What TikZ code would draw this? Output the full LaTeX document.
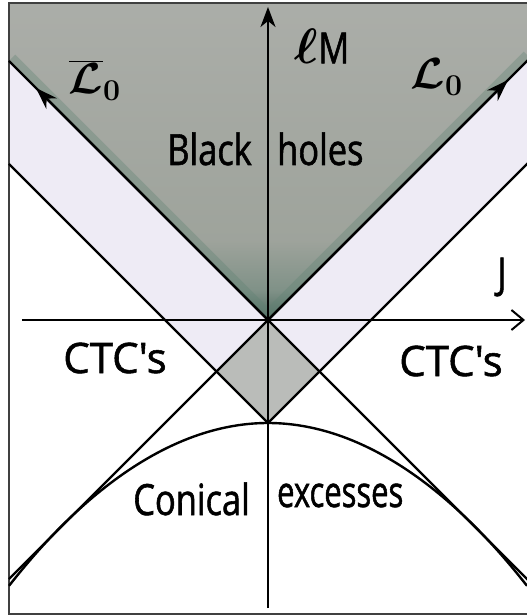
\documentclass[tikz,border=0pt]{standalone}
\usepackage{graphicx}
\usepackage{fontspec}
\newfontfamily\hand[FakeStretch=0.8, FakeBold=1.3]{Open Sans}
\newfontfamily\handwide[FakeBold=1.3]{Open Sans}
\usetikzlibrary{arrows.meta}
\definecolor{ctcband}{RGB}{238,235,245}
\definecolor{diamondfill}{RGB}{186,188,185}
\definecolor{edgetint}{RGB}{95,130,115}
\pgfdeclareverticalshading{bhshade}{100bp}{%
    rgb(0bp)=(0.31,0.42,0.38); rgb(25bp)=(0.31,0.42,0.38);
    rgb(29.7bp)=(0.50,0.57,0.53); rgb(37.6bp)=(0.62,0.64,0.61);
    rgb(75bp)=(0.67,0.68,0.66); rgb(100bp)=(0.67,0.68,0.66)}
\tikzset{
    frame/.style={draw=black!75, line width=2pt},
    bound/.style={draw, line width=2.4pt},
    axis/.style={draw, line width=2pt, -{Stealth[length=20pt, width=15pt, inset=6pt]}},
    jaxis/.style={draw, line width=2pt, -{Straight Barb[length=12pt, width=20pt]}},
    extremal/.style={draw, line width=2.4pt, -{Stealth[length=22pt, width=15pt, inset=7pt]}},
    edgeglow/.style={draw=edgetint, line width=18pt, opacity=0.35},
    lbl/.style={font=\hand\fontsize{43}{45}\selectfont, inner sep=0pt},
    ctc/.style={font=\handwide\fontsize{42}{44}\selectfont, inner sep=0pt},
    sym/.style={font=\boldmath\fontsize{20.74}{22}\selectfont, inner sep=0pt}
}

\begin{document}
\begin{tikzpicture}[x=1pt, y=1pt]
    \useasboundingbox (-268,-296) rectangle (259,320);
    \clip (-268,-296) rectangle (259,320);

    % Points
    \coordinate (O) at (0,0);
    \coordinate (P) at (0,-103);
    \coordinate (dl) at (-51.5,-51.5);
    \coordinate (dr) at (51.5,-51.5);
    \coordinate (aTL) at (-259,259);
    \coordinate (aBR) at (262,-262);
    \coordinate (bTR) at (262,262);
    \coordinate (bBL) at (-259,-259);
    \coordinate (vL) at (-259,156);
    \coordinate (vR) at (262,159);
    \coordinate (tl) at (-259,317);
    \coordinate (tr) at (262,317);
    \coordinate (pL) at (-259,-265.8);
    \coordinate (pR) at (259,-265.8);
    \coordinate (mBot) at (0,-288);
    \coordinate (mTop) at (0,313);
    \coordinate (jL) at (-246,0);
    \coordinate (jR) at (257,0);
    \coordinate (lbarTip) at (-232,232);
    \coordinate (lTip) at (240,240);

    % Regions
    \shade[shading=bhshade] (tl) -- (tr) -- (bTR) -- (O) -- (aTL) -- cycle;
    \begin{scope}
        \clip (tl) -- (tr) -- (bTR) -- (O) -- (aTL) -- cycle;
        \draw[edgeglow] (aTL) -- (O) -- (bTR);
    \end{scope}
    \fill[ctcband] (aTL) -- (O) -- (bTR) -- (vR) -- (P) -- (vL) -- cycle;
    \fill[diamondfill] (O) -- (dl) -- (P) -- (dr) -- cycle;

    % Frame
    \draw[frame] (270,317) -- (-259,317) -- (-259,-294) -- (270,-294);

    % Lines
    \draw[bound] (aTL) -- (aBR);
    \draw[bound] (bBL) -- (bTR);
    \draw[bound] (vL) -- (P) -- (vR);
    \draw[bound] (pL) parabola bend (P) (pR);
    \draw[extremal] (O) -- (lbarTip);
    \draw[extremal] (O) -- (lTip);
    \draw[axis] (mBot) -- (mTop);
    \draw[jaxis] (jL) -- (jR);

    % Labels
    \node[lbl] (lM) at (54,274) {\scalebox{2.4}{\boldmath\fontsize{20.74}{22}\selectfont$\ell$}M};
    \node[lbl] (J) at (234,43) {J};
    \node[sym] (lbar) at (-173,240) {\scalebox{2.1}{$\overline{\mathcal{L}}_0$}};
    \node[sym] (lzero) at (169,243) {\scalebox{2.1}{$\mathcal{L}_0$}};
    \node[lbl, anchor=base east] (black) at (-16,155) {Black};
    \node[lbl, anchor=base west] (holes) at (9,155) {holes};
    \node[ctc] (ctcL) at (-153,-38) {CTC's};
    \node[ctc] (ctcR) at (183,-41) {CTC's};
    \node[lbl, anchor=base east] (conical) at (-18,-195) {Conical};
    \node[lbl, anchor=base west] (excess) at (9,-187) {\scalebox{0.9}[1]{excesses}};
\end{tikzpicture}
\end{document}
